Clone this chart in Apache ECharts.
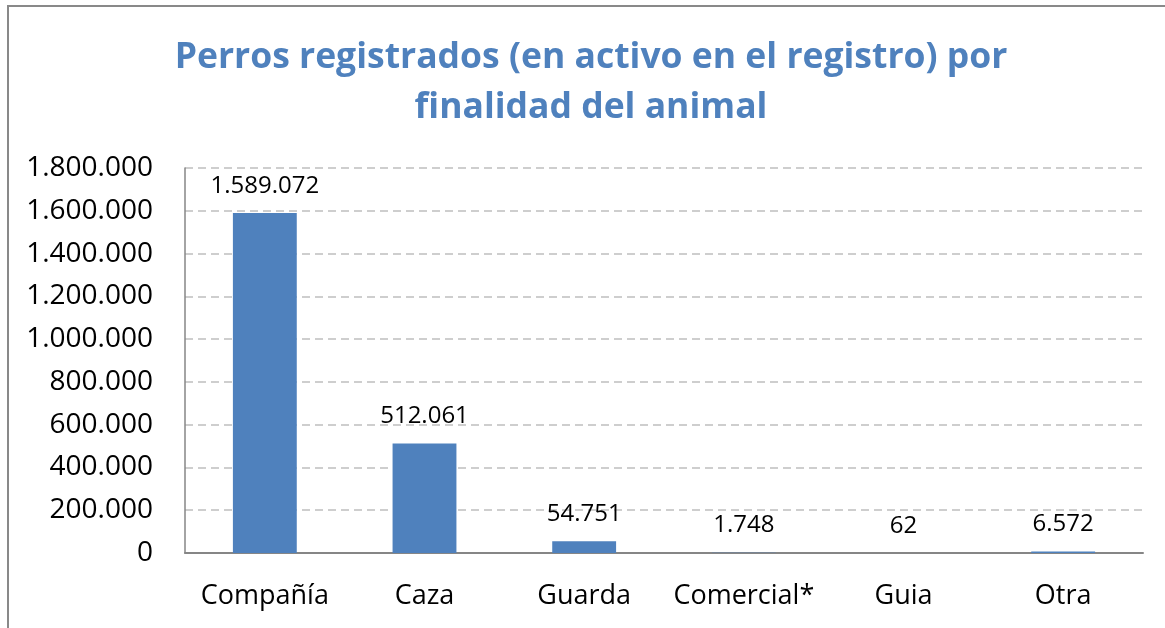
<!DOCTYPE html>
<html>
<head>
	<meta charset="utf-8">
	<title>Perros registrados</title>
	<script src="https://cdn.jsdelivr.net/npm/echarts@6/dist/echarts.min.js"></script>
	<style>
		html, body { margin: 0; padding: 0; background: #fff; }
		#box { width: 1165px; height: 628px; }
	</style>
</head>
<body>
	<div id="box"></div>
	<script type="text/javascript">
		// categorias y valores (perros en activo por finalidad)
		var categorias = ['Compañía', 'Caza', 'Guarda', 'Comercial*', 'Guia', 'Otra']
		var perros = [1589072, 512061, 54751, 1748, 62, 6572]
		// eje y: de 0 a 1.800.000 cada 200.000
		var ejeMin = 0
		var ejeMax = 1800000
		var ejePaso = 200000

		// separador de miles con punto
		function miles(v) {
			return String(v).replace(/\B(?=(\d{3})+(?!\d))/g, '.')
		}

		var fuente = "'Open Sans', 'Noto Sans', sans-serif"
		var myChart = echarts.init(document.getElementById('box'))

		var option = {
			animation: false,
			backgroundColor: '#fff',
			title: {
				text: 'Perros registrados (en activo en el registro) por\nfinalidad del animal',
				left: 591,
				top: 33,
				padding: 0,
				textAlign: 'center',
				textStyle: {
					color: '#4F81BD',
					fontFamily: fuente,
					fontWeight: 'bold',
					fontSize: 35.5,
					lineHeight: 50
				}
			},
			// marco del grafico
			graphic: [{
				type: 'rect',
				shape: { x: 8, y: 6, width: 1300, height: 800 },
				style: { fill: 'none', stroke: '#898989', lineWidth: 2 },
				silent: true
			}],
			grid: {
				left: 185,
				right: 22,
				top: 168,
				bottom: 75
			},
			xAxis: {
				type: 'category',
				data: categorias,
				axisLine: { lineStyle: { color: '#868686', width: 2 } },
				axisTick: { show: false },
				axisLabel: {
					interval: 0,
					color: '#000',
					fontFamily: fuente,
					fontSize: 27,
					margin: 30
				}
			},
			yAxis: {
				type: 'value',
				min: ejeMin,
				max: ejeMax,
				interval: ejePaso,
				axisLine: { show: true, lineStyle: { color: '#868686', width: 1.5 } },
				axisTick: { show: false },
				axisLabel: {
					color: '#000',
					fontFamily: fuente,
					fontSize: 28,
					margin: 32,
					formatter: function (v) { return miles(v) }
				},
				splitLine: {
					lineStyle: { color: '#BFBFBF', width: 1.5, type: [8, 5] }
				}
			},
			series: [{
				type: 'bar',
				data: perros,
				barWidth: '40%',
				itemStyle: { color: '#4F81BD' },
				label: {
					show: true,
					position: 'top',
					distance: 15,
					color: '#000',
					fontFamily: fuente,
					fontSize: 24,
					formatter: function (p) { return miles(p.value) }
				}
			}]
		}

		myChart.setOption(option)
	</script>
</body>
</html>
